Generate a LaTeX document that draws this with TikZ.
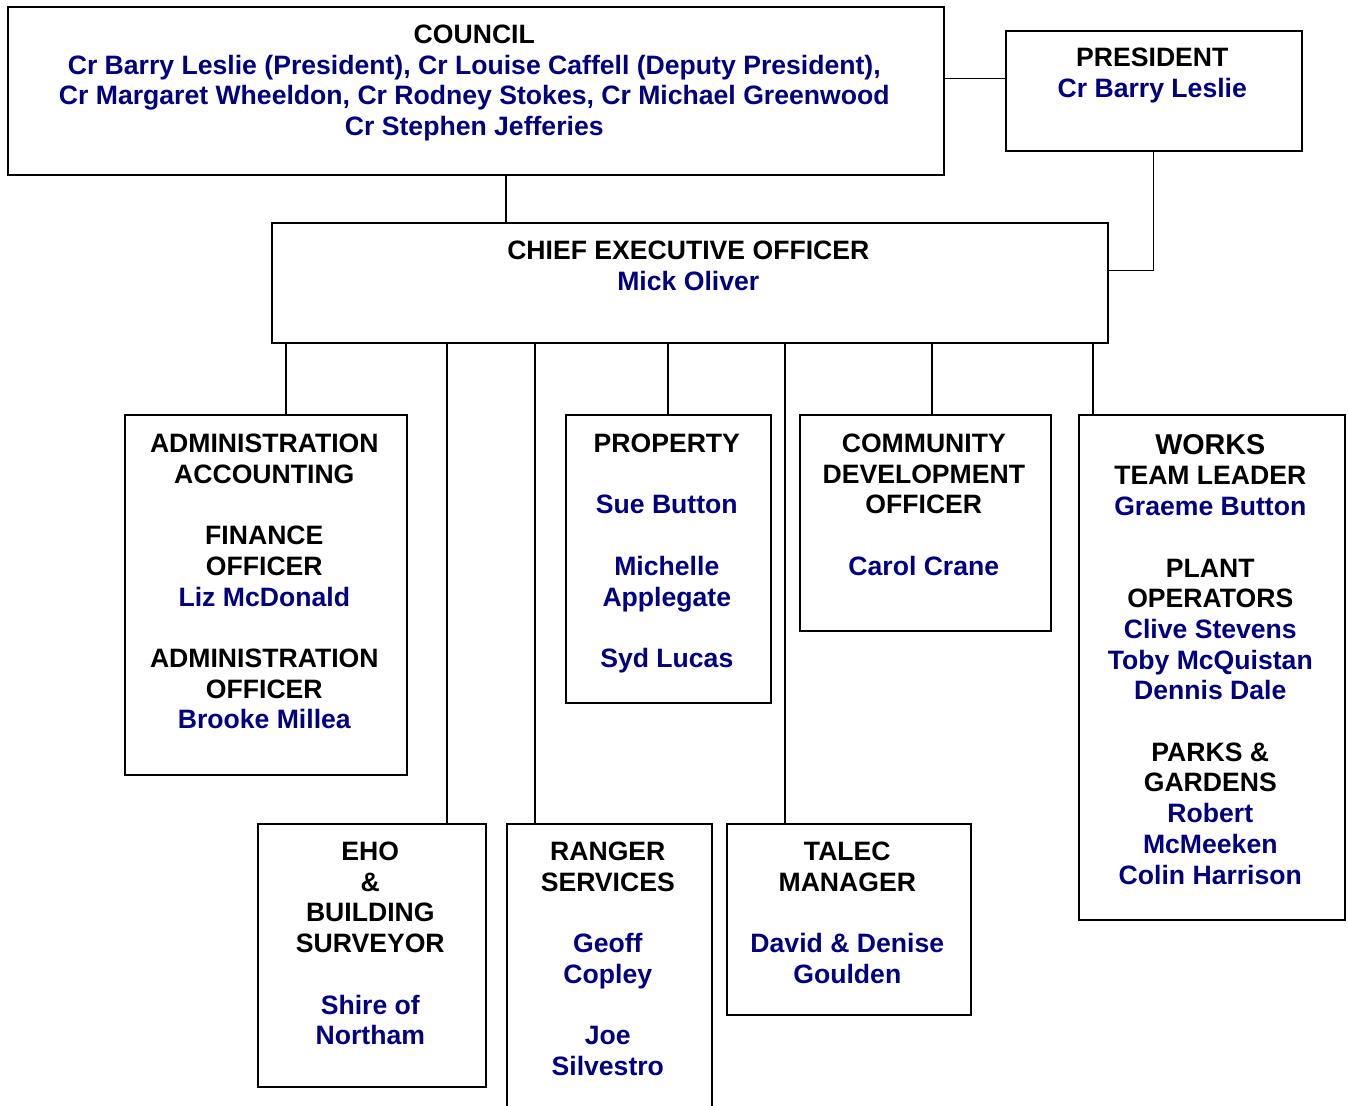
\documentclass[tikz,border=0pt]{standalone}
\usepackage{fontspec}
\setmainfont{Liberation Sans}
\definecolor{navy}{HTML}{000080}
\newcommand\nv[1]{\textcolor{navy}{#1}}
\newcommand\fs{\rule{0pt}{22pt}}
\begin{document}
\begin{tikzpicture}[x=1pt,y=-1pt,
  box/.style={draw, line width=1.6pt, inner sep=0pt, anchor=north west},
  txt/.style={align=center, inner sep=0pt, anchor=north, xshift=-1.5pt, font=\fontsize{26.6}{30.7}\bfseries\selectfont},
  conn/.style={line width=1.2pt}]
\useasboundingbox (0,0) rectangle (1348,1105);
\clip (0,0) rectangle (1348,1105);
\fill[white] (0,0) rectangle (1348,1105);

% boxes
\node[box, minimum width=936pt, minimum height=168pt] (council) at (7,6) {};
\node[box, minimum width=296pt, minimum height=120pt] (president) at (1005,30) {};
\node[box, minimum width=836pt, minimum height=120pt] (ceo) at (271,222) {};
\node[box, minimum width=282pt, minimum height=360pt] (admin) at (124,414) {};
\node[box, minimum width=205pt, minimum height=288pt] (property) at (565,414) {};
\node[box, minimum width=251pt, minimum height=216pt] (community) at (799,414) {};
\node[box, minimum width=266pt, minimum height=505pt] (works) at (1078,414) {};
\node[box, minimum width=228pt, minimum height=263pt] (eho) at (257,823) {};
\node[box, minimum width=205pt, minimum height=320pt] (ranger) at (506,823) {};
\node[box, minimum width=244pt, minimum height=191pt] (talec) at (726,823) {};

% texts
\node[txt] (councilT) at ([yshift=-15.3pt]council.north) {\fs COUNCIL\\
 \nv{Cr Barry Leslie (President), Cr Louise Caffell (Deputy President),}\\
 \nv{Cr Margaret Wheeldon, Cr Rodney Stokes, Cr Michael Greenwood}\\
 \nv{Cr Stephen Jefferies}};
\node[txt] (presidentT) at ([yshift=-14.7pt]president.north) {\fs PRESIDENT\\ \nv{Cr Barry Leslie}};
\node[txt] (ceoT) at ([yshift=-15.7pt]ceo.north) {\fs CHIEF EXECUTIVE OFFICER\\ \nv{Mick Oliver}};
\node[txt] (adminT) at ([yshift=-16.3pt]admin.north) {\fs ADMINISTRATION\\ ACCOUNTING\\[30.7pt]
 FINANCE\\ OFFICER\\ \nv{Liz McDonald}\\[30.7pt]
 ADMINISTRATION\\ OFFICER\\ \nv{Brooke Millea}};
\node[txt] (propertyT) at ([yshift=-16.3pt]property.north) {\fs PROPERTY\\[30.7pt]
 \nv{Sue Button}\\[30.7pt] \nv{Michelle}\\ \nv{Applegate}\\[30.7pt] \nv{Syd Lucas}};
\node[txt] (communityT) at ([yshift=-16.3pt]community.north) {\fs COMMUNITY\\ DEVELOPMENT\\ OFFICER\\[30.7pt] \nv{Carol Crane}};
\node[txt] (worksT) at ([yshift=-18pt]works.north) {\fs{\fontsize{28.7}{30.7}\selectfont WORKS}\\ TEAM LEADER\\ \nv{Graeme Button}\\[30.7pt]
 PLANT\\ OPERATORS\\ \nv{Clive Stevens}\\ \nv{Toby McQuistan}\\ \nv{Dennis Dale}\\[30.7pt]
 PARKS \&\\ GARDENS\\ \nv{Robert}\\ \nv{McMeeken}\\ \nv{Colin Harrison}};
\node[txt] (ehoT) at ([yshift=-15.3pt]eho.north) {\fs EHO\\ \&\\ BUILDING\\ SURVEYOR\\[30.7pt] \nv{Shire of}\\ \nv{Northam}};
\node[txt] (rangerT) at ([yshift=-15.3pt]ranger.north) {\fs RANGER\\ SERVICES\\[30.7pt] \nv{Geoff}\\ \nv{Copley}\\[30.7pt] \nv{Joe}\\ \nv{Silvestro}};
\node[txt] (talecT) at ([yshift=-15.3pt]talec.north) {\fs TALEC\\ MANAGER\\[30.7pt] \nv{David \& Denise}\\ \nv{Goulden}};

% drop positions
\coordinate (dCouncil) at (506,0);
\coordinate (dAdmin) at (286,0);
\coordinate (dEho) at (447,0);
\coordinate (dRanger) at (535,0);
\coordinate (dProp) at (668,0);
\coordinate (dTalec) at (785,0);
\coordinate (dComm) at (932,0);
\coordinate (dWorks) at (1093,0);

% connectors
\draw[conn] ([yshift=12pt]president.west) -- ([yshift=12pt]president.west -| council.east);
\draw[conn] (council.south -| dCouncil) -- (ceo.north -| dCouncil);
\draw[conn] (president.south) |- ([yshift=12pt]ceo.east);
\draw[conn] (ceo.south -| dAdmin) -- (admin.north -| dAdmin);
\draw[conn] (ceo.south -| dEho) -- (eho.north -| dEho);
\draw[conn] (ceo.south -| dRanger) -- (ranger.north -| dRanger);
\draw[conn] (ceo.south -| dProp) -- (property.north -| dProp);
\draw[conn] (ceo.south -| dTalec) -- (talec.north -| dTalec);
\draw[conn] (ceo.south -| dComm) -- (community.north -| dComm);
\draw[conn] (ceo.south -| dWorks) -- (works.north -| dWorks);
\end{tikzpicture}
\end{document}
